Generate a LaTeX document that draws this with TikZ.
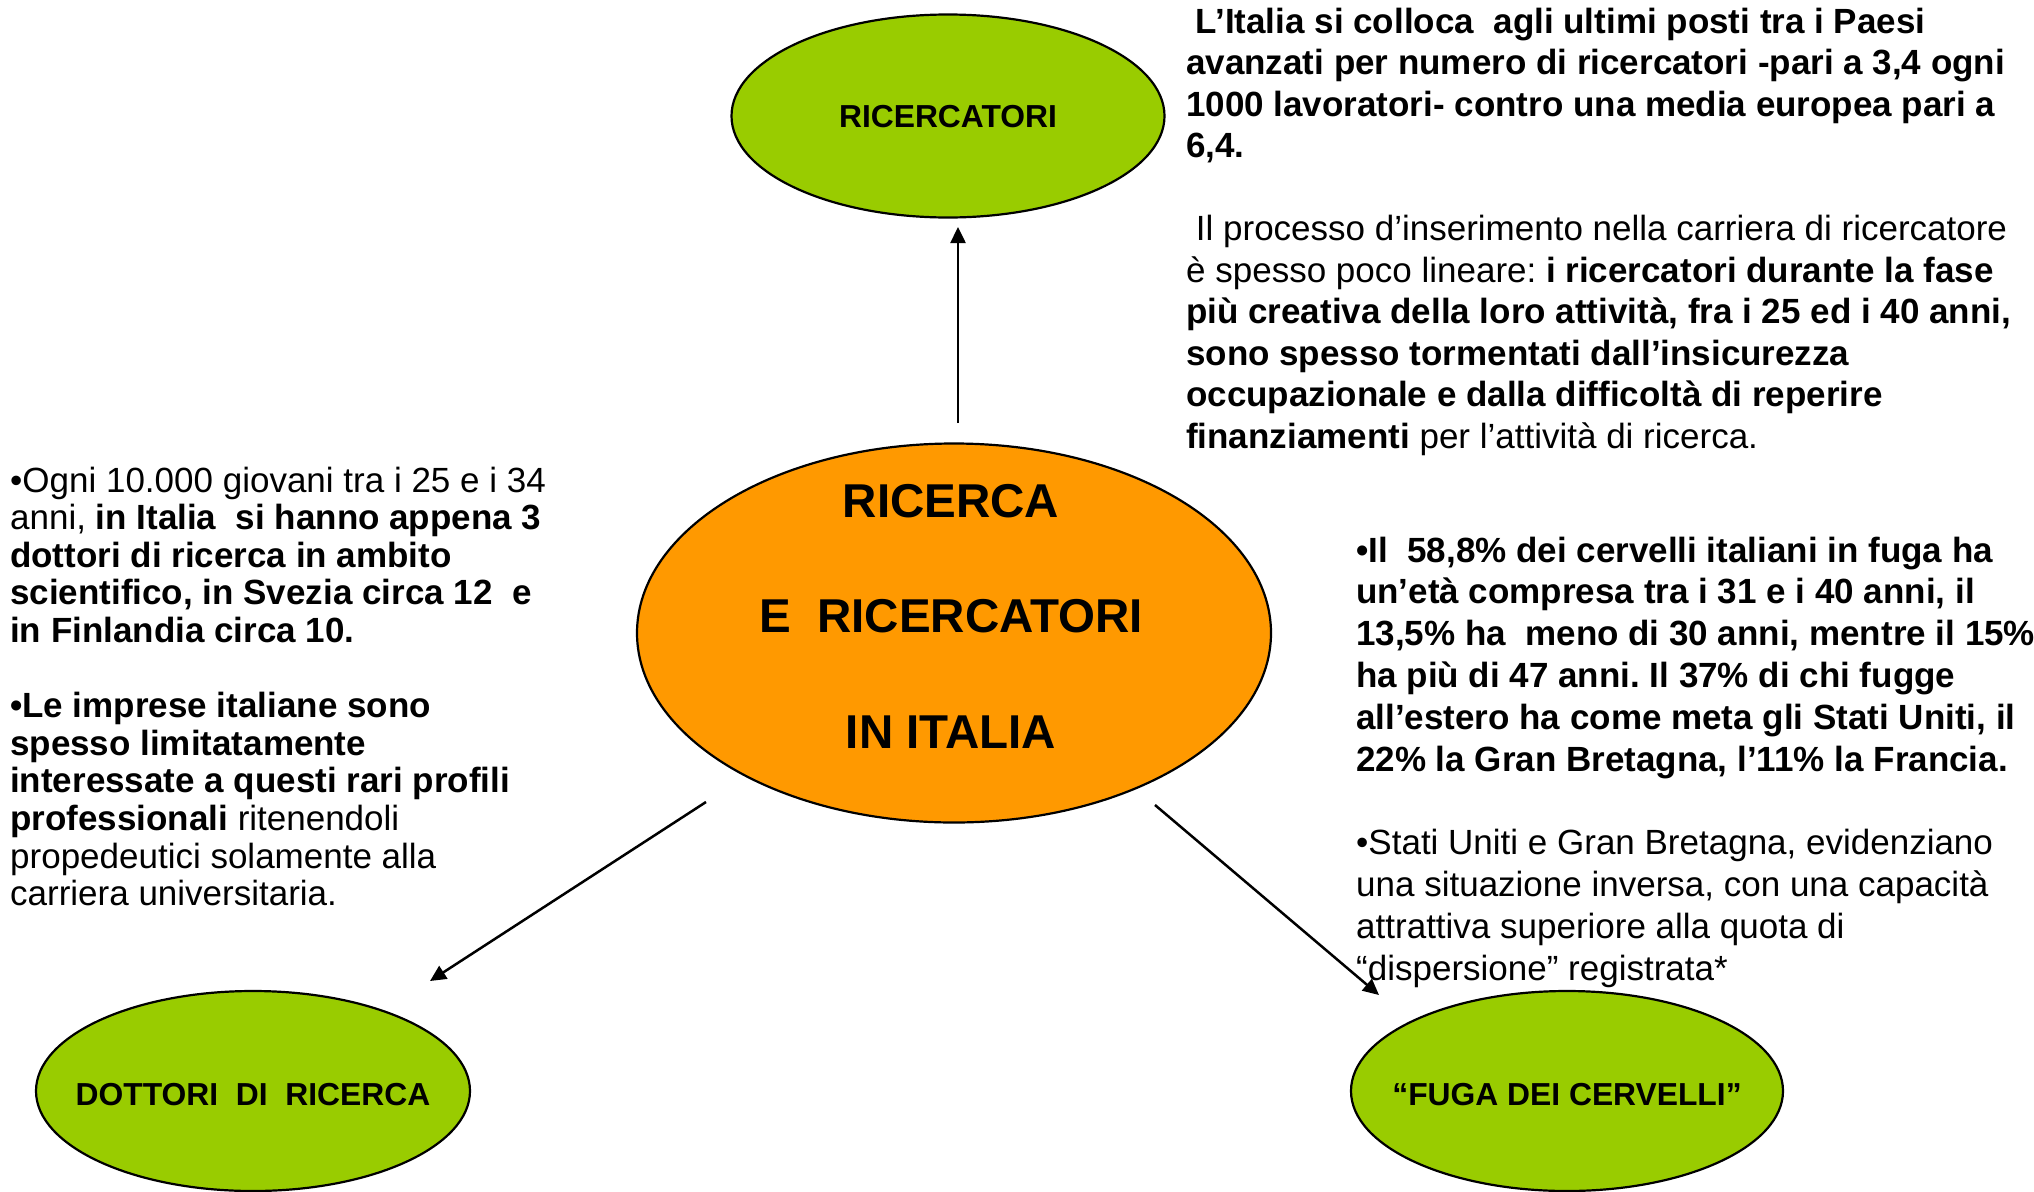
\documentclass[tikz,border=0pt]{standalone}
\usepackage{fontspec}
\setmainfont{Liberation Sans}
\usetikzlibrary{shapes.geometric,arrows.meta}
\definecolor{leaf}{RGB}{153,204,0}
\definecolor{amber}{RGB}{255,153,0}
\frenchspacing
\tikzset{
  bubble/.style={ellipse, draw=black, line width=2.2pt, inner sep=0pt},
  lbl/.style={inner sep=0pt, font=\fontsize{31.8}{37}\selectfont\bfseries},
  txt/.style={inner sep=0pt, anchor=base west},
  arr/.style={line width=2.5pt, -{Triangle[length=16pt,width=15pt]}}
}
\begin{document}
\begin{tikzpicture}[x=1pt,y=-1pt]
\useasboundingbox (0,0) rectangle (2034,1191);
\fill[white] (0,0) rectangle (2034,1191);

% ellipses
\node[bubble, fill=leaf, minimum width=433pt, minimum height=203pt] (top) at (948,116) {};
\node[bubble, fill=amber, minimum width=634pt, minimum height=379pt] (centre) at (954,633) {};
\node[bubble, fill=leaf, minimum width=434pt, minimum height=200pt] (dott) at (253,1091) {};
\node[bubble, fill=leaf, minimum width=432pt, minimum height=200pt] (fuga) at (1567,1091) {};

% labels
\node[lbl] (toplbl) at ([yshift=-1pt]top.center) {RICERCATORI};
\node[lbl] (dottlbl) at ([yshift=-4pt]dott.center) {DOTTORI\ \ DI\ \ RICERCA};
\node[lbl] (fugalbl) at ([yshift=-4pt]fuga.center) {“FUGA DEI CERVELLI”};
\node[inner sep=0pt, anchor=base] (centrelbl) at (951,517)
  {\parbox[t]{600pt}{\centering\fontsize{47.5}{115.5}\selectfont\bfseries
   RICERCA\\E\ \ RICERCATORI\\IN ITALIA}};

% arrows
\coordinate (upS) at (958,423);
\coordinate (upE) at (958,227);
\coordinate (lS) at (706,802);
\coordinate (lE) at (430,981);
\coordinate (rS) at (1155,805);
\coordinate (rE) at (1379,995);
\draw[arr] (upS) -- (upE);
\draw[arr] (lS) -- (lE);
\draw[arr] (rS) -- (rE);

% right top text
\node[txt] (ttext) at (1186,33) {\parbox[t]{1000pt}{\raggedright\fontsize{35}{41.5}\selectfont
{\bfseries\hspace*{0.278em}L’Italia si colloca\ \ agli ultimi posti tra i Paesi}\\
{\bfseries avanzati per numero di ricercatori -pari a 3,4 ogni}\\
{\bfseries 1000 lavoratori- contro una media europea pari a}\\
{\bfseries 6,4.}\\[41.5pt]
\hspace*{0.278em}Il processo d’inserimento nella carriera di ricercatore\\
è spesso poco lineare: {\bfseries i ricercatori durante la fase}\\
{\bfseries più creativa della loro attività, fra i 25 ed i 40 anni,}\\
{\bfseries sono spesso tormentati dall’insicurezza}\\
{\bfseries occupazionale e dalla difficoltà di reperire}\\
{\bfseries finanziamenti} per l’attività di ricerca.}};

% left text
\node[txt] (ltext) at (10,492) {\parbox[t]{1000pt}{\raggedright\fontsize{35}{37.6}\selectfont
•Ogni 10.000 giovani tra i 25 e i 34\\
anni, {\bfseries in Italia\ \ si hanno appena 3}\\
{\bfseries dottori di ricerca in ambito}\\
{\bfseries scientifico, in Svezia circa 12\ \ e}\\
{\bfseries in Finlandia circa 10.}\\[37.6pt]
{\bfseries •Le imprese italiane sono}\\
{\bfseries spesso limitatamente}\\
{\bfseries interessate a questi rari profili}\\
{\bfseries professionali} ritenendoli\\
propedeutici solamente alla\\
carriera universitaria.}};

% right middle text
\node[txt] (rtext) at (1356,562) {\parbox[t]{1000pt}{\raggedright\fontsize{35}{41.8}\selectfont
{\bfseries •Il\ \ 58,8\% dei cervelli italiani in fuga ha}\\
{\bfseries un’età compresa tra i 31 e i 40 anni, il}\\
{\bfseries 13,5\% ha\ \ meno di 30 anni, mentre il 15\%}\\
{\bfseries ha più di 47 anni. Il 37\% di chi fugge}\\
{\bfseries all’estero ha come meta gli Stati Uniti, il}\\
{\bfseries 22\% la Gran Bretagna, l’11\% la Francia.}\\[41.8pt]
•Stati Uniti e Gran Bretagna, evidenziano\\
una situazione inversa, con una capacità\\
attrattiva superiore alla quota di\\
“dispersione” registrata*}};
\end{tikzpicture}
\end{document}
